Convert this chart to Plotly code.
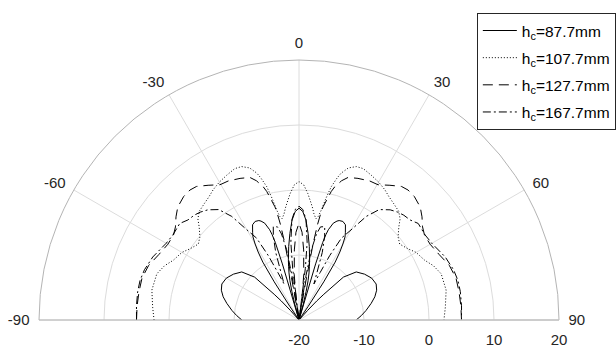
import plotly.graph_objects as go

# ---- data (half pattern, 0..90 deg; pattern is symmetric about 0 deg) ----
theta_a = [0, 2, 4, 6, 8, 10, 11, 12, 13, 14, 15, 15.5, 16, 16.5, 17, 17.5, 18, 19.5, 21, 22, 24, 26, 28, 29, 30, 31, 32, 33, 34, 35, 41, 42, 43, 44, 46, 50, 55, 60, 65, 69, 73, 77, 82, 86, 90]
r_a =     [-2.8, -3.3, -4.6, -6.6, -8.6, -10.6, -11.6, -12.6, -13.8, -15.5, -17.5, -20, -20, -11.0, -7.5, -6.2, -5.4, -4.2, -3.7, -3.5, -3.4, -3.7, -4.8, -5.4, -6.5, -7.8, -9.5, -13.0, -17.5, -20, -20, -18, -16, -14.5, -10.5, -8.5, -7.7, -7.1, -6.9, -7.2, -7.8, -8.6, -9.6, -10.4, -11.2]

theta_b = [0, 2, 4, 6, 7, 8, 9.5, 10.5, 11.5, 12.5, 13.6, 15, 16, 18, 20.5, 23, 26.5, 30, 33.4, 36, 39, 42.5, 45, 47, 50, 53, 56.7, 60, 64.5, 68, 72, 78.5, 85, 90]
r_b =     [1.3, 0.8, -0.5, -2.0, -2.7, -3.5, -4.2, -3.8, -2.7, -0.8, 1.1, 2.6, 3.5, 4.6, 5.2, 5.3, 4.9, 4.5, 4.0, 3.5, 3.1, 2.7, 2.0, 1.0, -0.1, -0.6, 0.0, 0.8, 1.4, 2.3, 3.0, 3.1, 2.6, 2.3]

theta_c = [0, 2, 3.8, 6, 8, 9, 10, 10.5, 11, 11.6, 12, 14.1, 15, 17, 19, 22.6, 27, 30.3, 34, 37.5, 40, 43, 47, 50, 53, 56, 60, 65, 70, 75, 80, 85, 90]
r_c =     [-5.1, -6.5, -9.2, -13, -17, -20, -14, -8, -5, -3.0, -2.2, 0.4, 1.2, 2.4, 3.2, 3.6, 4.0, 4.1, 5.0, 5.9, 6.1, 6.0, 5.5, 4.7, 3.8, 3.3, 3.3, 3.8, 4.6, 5.0, 5.0, 5.0, 5.0]

theta_d = [0, 2, 4, 6, 7, 8, 9, 10, 11.5, 13, 15.4, 17, 19, 21, 22.5, 24, 25.5, 27.4, 30, 33, 36, 39.6, 42.5, 45, 48, 51, 56, 60, 66.7, 72, 76, 80, 85, 90]
r_d =     [-2.5, -3.0, -4.5, -8.0, -12, -20, -13, -9, -6.5, -5.3, -5.1, -6.5, -9, -12.5, -14, -12, -9, -5.8, -4.0, -1.0, 1.0, 2.0, 2.5, 2.8, 3.0, 3.6, 3.4, 3.6, 4.5, 5.0, 5.2, 5.2, 5.1, 5.0]

labels = ["h<sub>c</sub>=87.7mm", "h<sub>c</sub>=107.7mm", "h<sub>c</sub>=127.7mm", "h<sub>c</sub>=167.7mm"]
dashes = ["solid", "1px,2px", "10px,6px", "8px,3px,2px,3px"]

ang_ticks = [-90, -60, -30, 0, 30, 60, 90]
rad_ticks = [-20, -10, 0, 10, 20]


def mirror(th, r):
    t = [-v for v in th[::-1]] + th[1:]
    rr = r[::-1] + r[1:]
    return t, rr


fig = go.Figure()
for i, (th, r, name, dsh) in enumerate(zip([theta_a, theta_b, theta_c, theta_d],
                                           [r_a, r_b, r_c, r_d], labels, dashes)):
    t, rr = mirror(th, r)
    fig.add_trace(go.Scatterpolar(
        r=rr, theta=t, mode="lines", name=name, legendgroup=f"g{i}",
        line=dict(color="black", width=1, dash=dsh),
    ))

FONT = "Liberation Sans, Arial, sans-serif"
fig.update_layout(
    width=616, height=347,
    margin=dict(l=39, r=57, t=60, b=27, autoexpand=False),
    paper_bgcolor="white",
    font=dict(family=FONT, size=15, color="#262626"),
    polar=dict(
        sector=[0, 180],
        bgcolor="white",
        angularaxis=dict(
            rotation=90, direction="clockwise",
            tickmode="array", tickvals=ang_ticks,
            ticktext=[str(v) for v in ang_ticks],
            ticks="outside", ticklen=6, tickcolor="rgba(0,0,0,0)",
            showline=True, linecolor="#b4b4b4", linewidth=1,
            gridcolor="#dcdcdc", gridwidth=1,
            tickfont=dict(size=15, color="#262626"),
        ),
        radialaxis=dict(
            range=[-20, 20], tickmode="array", tickvals=rad_ticks,
            ticktext=[str(v) for v in rad_ticks],
            ticks="outside", ticklen=6, tickcolor="rgba(0,0,0,0)",
            showline=True, linecolor="#c8c8c8", linewidth=1,
            gridcolor="#dcdcdc", gridwidth=1, angle=0,
            tickfont=dict(size=15, color="#262626"),
        ),
    ),
    legend=dict(
        x=0.842, y=1.181, xanchor="left", yanchor="top",
        bgcolor="white", bordercolor="#262626", borderwidth=1,
        font=dict(size=15.5, color="#000000"),
        itemwidth=34, tracegroupgap=4,
    ),
    showlegend=True,
)

fig.write_html("out.html")
